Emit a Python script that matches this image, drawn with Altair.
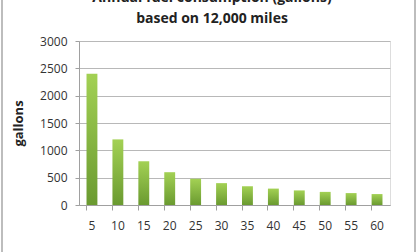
import altair as alt
import pandas as pd

mpg = [5, 10, 15, 20, 25, 30, 35, 40, 45, 50, 55, 60]
gallons = [2400, 1200, 800, 600, 480, 400, 343, 300, 267, 240, 218, 200]
title_lines = ["Annual fuel consumption (gallons)", "based on 12,000 miles"]

df = pd.DataFrame({"mpg": [str(m) for m in mpg], "gallons": gallons})

grad = alt.LinearGradient(
    gradient="linear",
    stops=[alt.GradientStop(color="#a3d154", offset=0),
           alt.GradientStop(color="#6a9a30", offset=1)],
    x1=0, x2=0, y1=0, y2=1,
)

font = "Open Sans"

bars = alt.Chart(df).mark_bar(color=grad).encode(
    x=alt.X("mpg:N", sort=None, title="miles per gallon",
            scale=alt.Scale(paddingInner=0.58, paddingOuter=0.29),
            axis=alt.Axis(labelAngle=0, bandPosition=0, tickSize=5, tickColor="#a0a0a0",
                          domainColor="#a0a0a0", labelPadding=10, titlePadding=20,
                          labelFont=font, labelFontSize=12, labelColor="#333333",
                          titleFont=font, titleFontSize=13, titleFontWeight="bold",
                          titleColor="#222222", grid=False)),
    y=alt.Y("gallons:Q", title="gallons",
            scale=alt.Scale(domain=[0, 3000]),
            axis=alt.Axis(values=[0, 500, 1000, 1500, 2000, 2500, 3000], format="d",
                          tickSize=4, tickColor="#a0a0a0", domainColor="#a0a0a0",
                          gridColor="#b8b8b8", labelPadding=8, titlePadding=14,
                          labelFont=font, labelFontSize=12, labelColor="#333333",
                          titleFont=font, titleFontSize=13, titleFontWeight="bold",
                          titleColor="#222222")),
)

frame = alt.Chart(df.head(1)).mark_rect(fill=None, stroke="#a8a8a8", strokeWidth=1.5).encode(
    x=alt.value(-77), x2=alt.value(336), y=alt.value(-60), y2=alt.value(230)
)

t1 = alt.Chart(pd.DataFrame({"t": [title_lines[0]]})).mark_text(
    font=font, fontSize=14, fontWeight="bold", color="#222222", baseline="alphabetic", align="center"
).encode(text="t:N", x=alt.value(133), y=alt.value(-39))

t2 = alt.Chart(pd.DataFrame({"t": [title_lines[1]]})).mark_text(
    font=font, fontSize=14, fontWeight="bold", color="#222222", baseline="alphabetic", align="center"
).encode(text="t:N", x=alt.value(133), y=alt.value(-18.5))

chart = alt.layer(frame, bars, t1, t2).properties(
    width=311, height=164,
    padding={"left": 79, "top": 41, "right": 30, "bottom": 47},
    autosize=alt.AutoSizeParams(type="none"),
).configure_view(stroke=None).configure(background="white")

chart.save("out.html", embed_options={"renderer": "svg", "actions": False})
